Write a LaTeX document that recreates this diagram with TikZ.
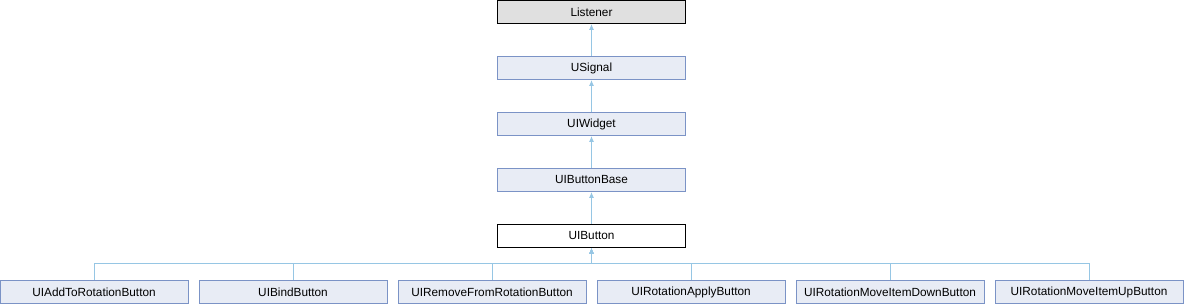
\documentclass[tikz,border=0pt]{standalone}
\usepackage{fontspec}
\setmainfont{Liberation Sans}
\usepackage{tikz}
\usetikzlibrary{arrows.meta}
\definecolor{boxfill}{RGB}{232,236,245}
\definecolor{boxline}{RGB}{123,147,198}
\definecolor{rootfill}{RGB}{224,224,224}
\definecolor{link}{RGB}{150,198,228}

\begin{document}
\begin{tikzpicture}[x=1pt,y=-1pt,
  cls/.style={rectangle,draw=boxline,fill=boxfill,line width=1pt,minimum width=188pt,minimum height=23pt,inner sep=0pt,font=\fontsize{11.8}{13}\selectfont},
  root/.style={cls,draw=black,fill=rootfill},
  here/.style={cls,draw=black,fill=white},
  inh/.style={draw=link,line width=1pt,-{Latex[length=6pt,width=5pt]}}]
\useasboundingbox (0,0) rectangle (1184,304);
% inheritance chain
\node[root](listener) at (591.5,12) {Listener};
\node[cls](usignal) at (591.5,68) {USignal};
\node[cls](uiwidget) at (591.5,124) {UIWidget};
\node[cls](buttonbase) at (591.5,180) {UIButtonBase};
\node[here](button) at (591.5,236) {UIButton};
\draw[inh] (usignal) -- (listener);
\draw[inh] (uiwidget) -- (usignal);
\draw[inh] (buttonbase) -- (uiwidget);
\draw[inh] (button) -- (buttonbase);
% derived classes
\foreach \n/\t [count=\i from 0] in {c1/UIAddToRotationButton,c2/UIBindButton,c3/UIRemoveFromRotationButton,c4/UIRotationApplyButton,c5/UIRotationMoveItemDownButton,c6/UIRotationMoveItemUpButton}{
  \node[cls](\n) at ({94+199*\i},292) {\t};
  \draw[inh] (\n.north) -- ++(0,-16.5) -| (button.south);
}
\end{tikzpicture}
\end{document}
